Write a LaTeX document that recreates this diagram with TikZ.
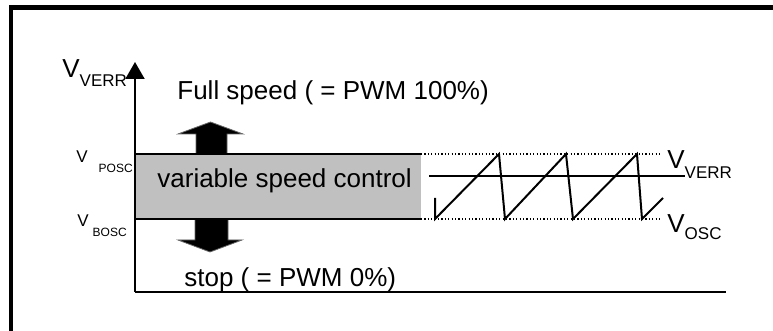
\documentclass[tikz,border=0pt]{standalone}
\usepackage{fontspec}
\setmainfont{Liberation Sans}
\usetikzlibrary{arrows.meta}
\definecolor{bandgray}{RGB}{192,192,192}
\tikzset{
  txt/.style={inner sep=0pt, anchor=base west, font=\fontsize{13}{15}\selectfont},
  smalltxt/.style={inner sep=0pt, anchor=base west, font=\fontsize{8.5}{10}\selectfont},
  blockarrow/.style={fill=black, draw=black!60, line width=0.4pt},
  level/.style={line width=1pt},
  guide/.style={line width=0.6pt, dash pattern=on 0.6pt off 1.1pt},
}
\newcommand{\subtxt}[2]{\raisebox{-#1}{\fontsize{8.5}{10}\selectfont #2}}
\newcommand{\tinysub}[2]{\raisebox{-#1}{\fontsize{6}{7}\selectfont #2}}

\begin{document}
\begin{tikzpicture}[x=0.5pt,y=-0.5pt]
  \useasboundingbox (0,0) rectangle (773,331);
  % frame
  \draw[line width=2.2pt] (11,345) -- (11,7.5) -- (790,7.5);
  % band of the oscillator
  \fill[bandgray] (135,154) rectangle (421,219);
  \coordinate (O) at (135,292);
  \coordinate (ytop) at (135,62);
  \coordinate (xend) at (726,292);
  \coordinate (pleft) at (135,154);
  \coordinate (pright) at (421,154);
  \coordinate (pend) at (660,154);
  \coordinate (bleft) at (135,219);
  \coordinate (bright) at (421,219);
  \coordinate (bend) at (660,219);
  \coordinate (eleft) at (429,176);
  \coordinate (eright) at (685,176);
  % block arrows
  \filldraw[blockarrow] (196,154) -- (196,134) -- (178,134) -- (210.5,122)
     -- (243,134) -- (227,134) -- (227,154) -- cycle;
  \filldraw[blockarrow] (195,219) -- (195,240) -- (178,240) -- (210,252)
     -- (242,240) -- (228,240) -- (228,219) -- cycle;
  % levels
  \draw[level] (pleft) -- (pright);
  \draw[level] (bleft) -- (bright);
  \draw[guide] (pright) -- (pend);
  \draw[guide] (bright) -- (bend);
  \draw[level] (eleft) -- (eright);
  % axes
  \draw[line width=1pt, -{Triangle[width=9.5pt,length=8.5pt]}] (O) -- (ytop);
  \draw[line width=1.2pt] (O) -- (xend);
  % sawtooth
  \draw[level] (435,198) -- (435,219) -- (499,154) -- (505,219) -- (566,154)
     -- (573,219) -- (637,154) -- (642,219) -- (663,198);
  % texts
  \node[txt] (full) at (177,100) {Full speed ( = PWM 100\%)};
  \node[txt] (var) at (157,188) {variable speed control};
  \node[txt] (stop) at (184,287) {stop ( = PWM 0\%)};
  \node[txt] (vaxis) at (62,78) {V\subtxt{4.5pt}{VERR}};
  \node[txt] (vverr) at (667,169) {V\subtxt{5pt}{VERR}};
  \node[txt] (vosc) at (667,233) {V\subtxt{3.5pt}{OSC}};
  \node[smalltxt] (vposc) at (76,163) {V\hspace{5.5pt}\tinysub{5pt}{POSC}};
  \node[smalltxt] (vbosc) at (77,226.5) {V\hspace{2pt}\tinysub{5.2pt}{BOSC}};
\end{tikzpicture}
\end{document}
